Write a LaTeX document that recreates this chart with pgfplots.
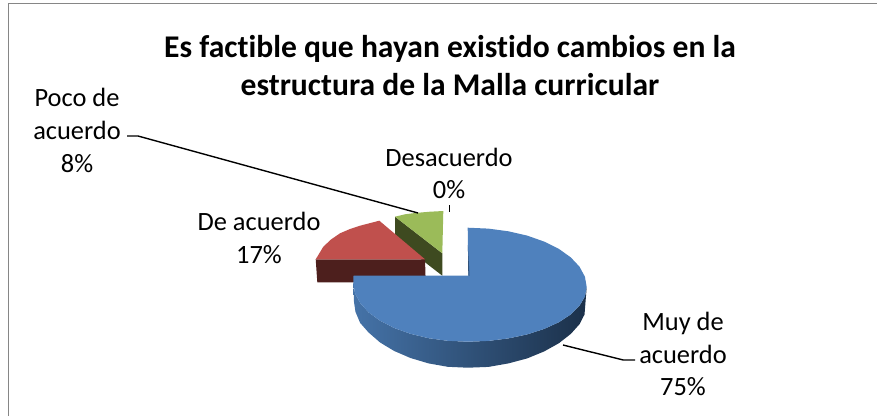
\documentclass[border=0pt]{standalone}
\usepackage{pgfplots}
\pgfplotsset{compat=1.18}
\usepackage{fontspec}
\setmainfont[Ligatures=NoCommon]{Carlito}
\definecolor{bluetop}{HTML}{4F81BD}
\definecolor{redtop}{HTML}{C0504D}
\definecolor{greentop}{HTML}{9BBB59}
\definecolor{redside}{HTML}{4D1F1D}
\definecolor{greenside}{HTML}{3E4A20}
\definecolor{bl}{HTML}{4573A8}
\definecolor{bm}{HTML}{2F5078}
\definecolor{br}{HTML}{1B3049}
\definecolor{framec}{HTML}{868686}
\begin{document}
\begin{tikzpicture}[x=1bp,y=1bp]
\useasboundingbox (0,0) rectangle (877,416);
\begin{axis}[at={(0,0)},anchor=south west,scale only axis,width=877bp,height=416bp,
  xmin=0,xmax=877,ymin=0,ymax=416,y dir=reverse,hide axis,clip=false]
% frame
\addplot[draw=framec,line width=1.3pt] coordinates {(8.3,416)(8.3,3.8)(877,3.8)};
% green slice (Poco de acuerdo 8%)
\addplot[fill=greenside,draw=none] coordinates {(395,216.7)(442.3,253.3)(442.3,275.7)(395,239)};
\addplot[fill=greentop,draw=none] coordinates {(395,216.7)(405,214.3)(415,213)(430,211.7)(443.3,211)(442.3,253.3)};
% red slice (De acuerdo 17%)
\addplot[fill=redside,draw=none] coordinates {(315.7,259.3)(425,259.3)(425.7,282.3)(317.3,282.3)};
\addplot[fill=redtop,draw=none] coordinates {(315.7,259.3)(323.3,246.7)(331,239.5)(340,233.3)(350,229)(360,225.7)(379.3,220.7)(425,259.3)};
% blue slice side (Muy de acuerdo 75%)
\addplot[draw=none,left color=bl,middle color=bm,right color=br] coordinates {
(586.7,287)(584.9,296.5)(579.5,305.7)(570.8,314.4)(558.9,322.2)(544.2,328.9)(527.2,334.4)(508.4,338.4)(488.4,340.9)(467.7,341.7)
(447.8,340.8)(428.6,338.2)(410.5,333.8)(394.2,328)(380.1,320.7)(368.6,312.4)(360.2,303.1)(355,293.2)(353.3,283)
(354,302)(355.5,312)(360.2,323)(368.6,332.5)(380.1,342.5)(394.2,351)(410.5,358)(428.6,363.4)(447.8,366.8)(467.7,367.7)
(488.4,366.9)(508.4,363.4)(527.2,358.4)(544.2,351.4)(558.9,343.2)(570.8,333.9)(579.5,324.2)(584.5,314.5)};
% blue slice top
\addplot[fill=bluetop,draw=none] coordinates {
(467.7,227.7)(488.4,228.6)(508.4,231.3)(527.2,235.6)(544.2,241.6)(558.9,248.9)(570.8,257.4)(579.5,266.7)(584.9,276.7)(586.7,287)
(584.9,296.5)(579.5,305.7)(570.8,314.4)(558.9,322.2)(544.2,328.9)(527.2,334.4)(508.4,338.4)(488.4,340.9)(467.7,341.7)
(447.8,340.8)(428.6,338.2)(410.5,333.8)(394.2,328)(380.1,320.7)(368.6,312.4)(360.2,303.1)(355,293.2)(353.3,283)(353.5,275.7)(468.3,275.7)};
\addplot[fill=bm,draw=none] coordinates {(467.9,245)(468.3,275.7)(469.5,275.7)};
% leader lines
\addplot[black,line width=1.4pt] coordinates {(127,136)(138,136)(418,213)};
\addplot[black,line width=1.4pt] coordinates {(563,345)(623.3,360)(635,360)};
\addplot[black,line width=1.4pt] coordinates {(449.7,205)(449.7,211.7)};
% text
\node[align=center,font=\fontsize{31.7}{38}\selectfont\bfseries] at (axis cs:450,65.5) {Es factible que hayan existido cambios en la\\estructura de la Malla curricular};
\node[align=center,font=\fontsize{26.5}{33}\selectfont] at (axis cs:77,130.5) {Poco de\\acuerdo\\8\%};
\node[align=center,font=\fontsize{26.5}{33}\selectfont] at (axis cs:449,173.5) {Desacuerdo\\0\%};
\node[align=center,font=\fontsize{26.5}{33}\selectfont] at (axis cs:259,237.5) {De acuerdo\\17\%};
\node[align=center,font=\fontsize{26.5}{33}\selectfont] at (axis cs:683,354) {Muy de\\acuerdo\\75\%};
\end{axis}
\end{tikzpicture}
\end{document}
